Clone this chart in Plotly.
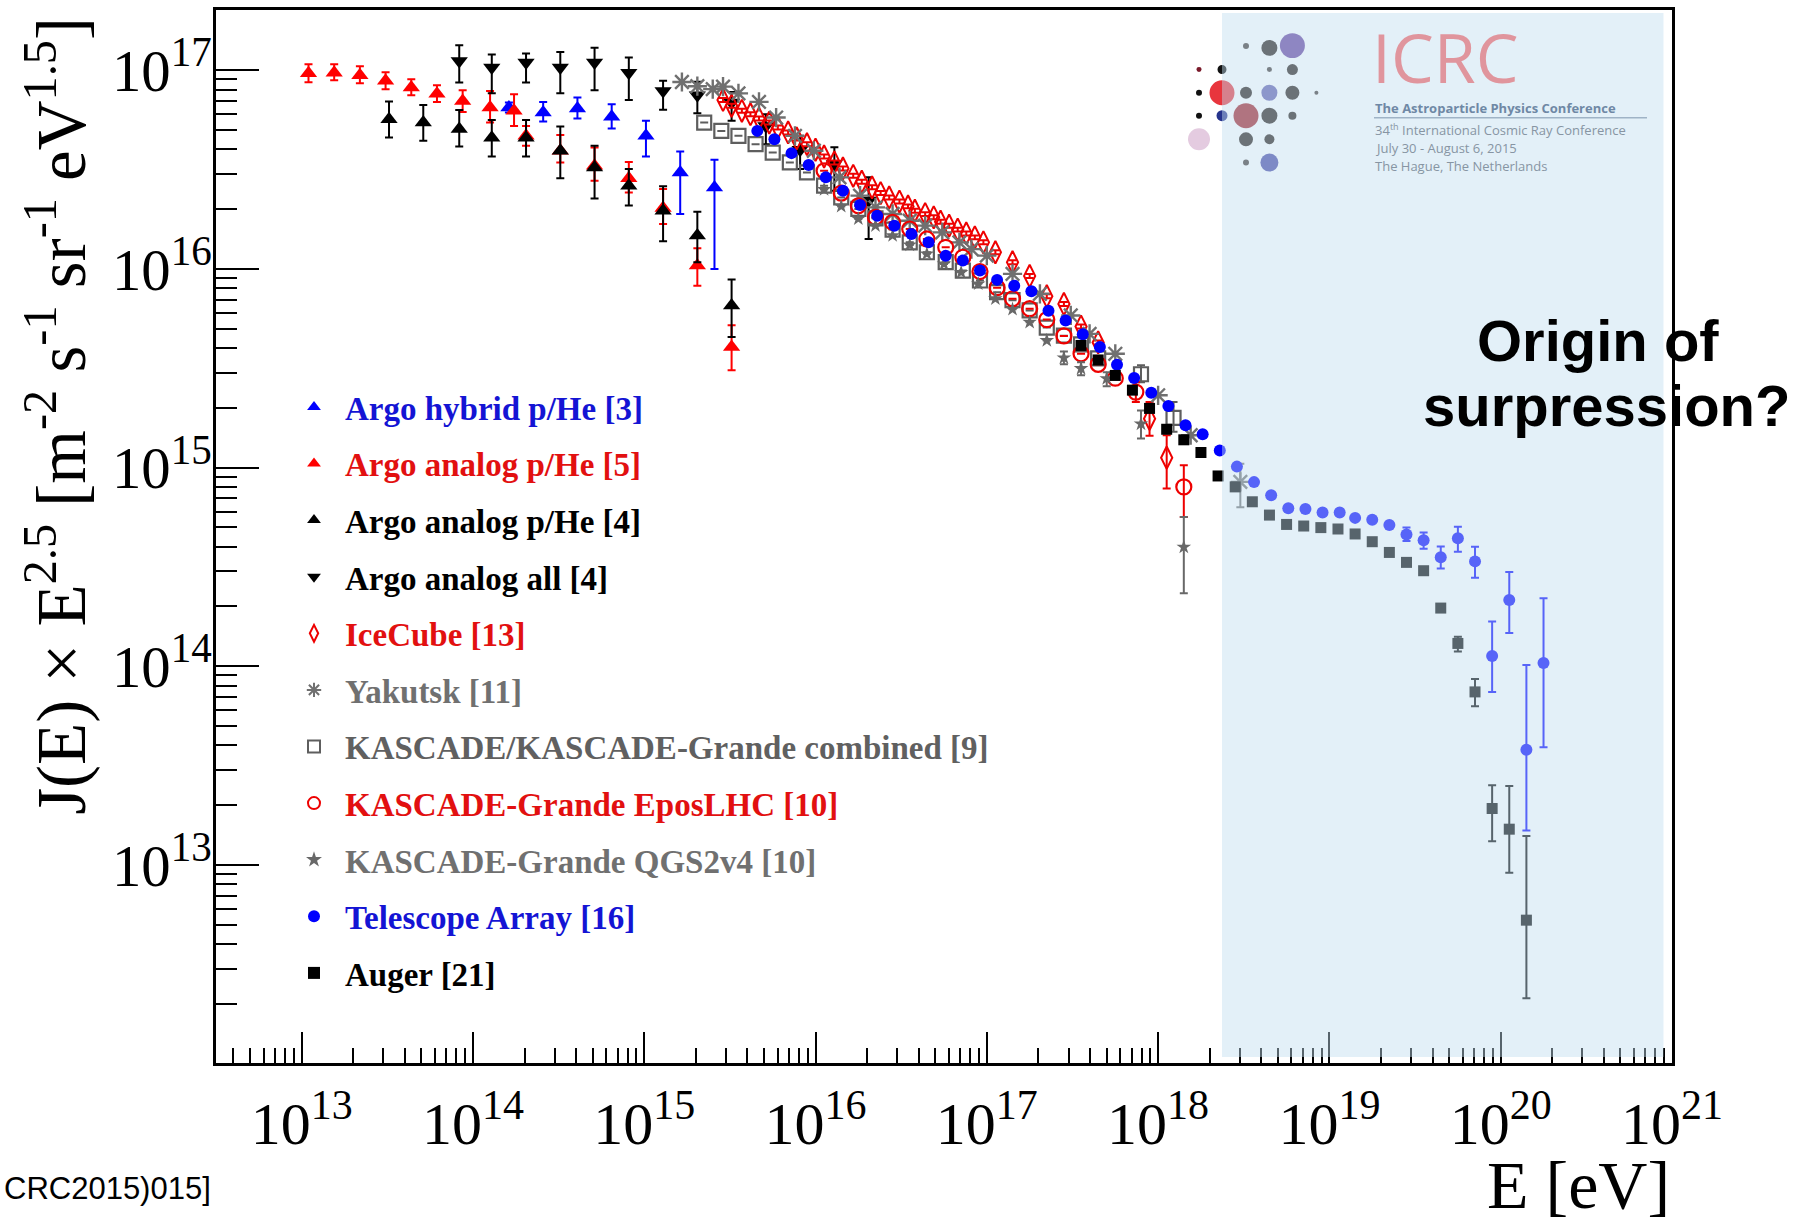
import plotly.graph_objects as go

# ---------------- data: log10(E/eV) and log10(J*E^2.5) ----------------
# Argo hybrid p/He [3]
hyb_logE = [14.21, 14.41, 14.61, 14.81, 15.01, 15.21, 15.41]
hyb_logJ = [16.813, 16.787, 16.808, 16.766, 16.670, 16.486, 16.410]
hyb_hi = [16.838, 16.841, 16.863, 16.829, 16.746, 16.591, 16.550]
hyb_lo = [16.787, 16.742, 16.757, 16.707, 16.566, 16.276, 16.000]

# Argo analog p/He [5]
a5_logE = [13.04, 13.19, 13.34, 13.49, 13.64, 13.79, 13.94, 14.10, 14.24, 14.31, 14.51, 14.71, 14.91, 15.11, 15.31, 15.51]
a5_logJ = [16.985, 16.988, 16.975, 16.947, 16.913, 16.882, 16.846, 16.813, 16.796, 16.670, 16.595, 16.520, 16.456, 16.307, 16.017, 15.607]
a5_hi = [17.03, 17.03, 17.02, 16.99, 16.955, 16.925, 16.90, 16.896, 16.879, 16.72, 16.674, 16.611, 16.539, 16.402, 16.104, 15.716]
a5_lo = [16.94, 16.95, 16.935, 16.905, 16.875, 16.84, 16.79, 16.737, 16.72, 16.62, 16.536, 16.444, 16.385, 16.226, 15.916, 15.49]

# Argo analog p/He [4]
a4_logE = [13.51, 13.71, 13.92, 14.11, 14.31, 14.51, 14.71, 14.91, 15.11, 15.31, 15.51]
a4_logJ = [16.754, 16.737, 16.705, 16.66, 16.66, 16.595, 16.511, 16.419, 16.293, 16.168, 15.816]
a4_hi = [16.843, 16.825, 16.80, 16.75, 16.75, 16.717, 16.62, 16.503, 16.416, 16.288, 15.947]
a4_lo = [16.662, 16.645, 16.617, 16.566, 16.566, 16.456, 16.355, 16.319, 16.139, 16.034, 15.657]

# Argo analog all [4]
aall_logE = [13.92, 14.11, 14.31, 14.51, 14.71, 14.91, 15.11, 15.31, 15.51, 15.71, 15.91, 16.11, 16.31]
aall_logJ = [17.047, 17.014, 17.039, 17.014, 17.039, 16.988, 16.896, 16.875, 16.838, 16.72, 16.60, 16.528, 16.344]
aall_hi = [17.126, 17.08, 17.085, 17.092, 17.114, 17.064, 16.947, 16.942, 16.891, 16.779, 16.67, 16.612, 16.461]
aall_lo = [16.938, 16.884, 16.938, 16.884, 16.90, 16.851, 16.801, 16.784, 16.746, 16.628, 16.503, 16.394, 16.151]

# IceCube [13]
ic_logE = [15.46, 15.51, 15.57, 15.62, 15.67, 15.73, 15.78, 15.84, 15.89, 15.95, 16.00, 16.05, 16.11, 16.16,
           16.22, 16.27, 16.33, 16.38, 16.43, 16.49, 16.54, 16.58, 16.64, 16.69, 16.73, 16.78, 16.83, 16.88,
           16.93, 16.98, 17.05, 17.15, 17.25, 17.35, 17.45, 17.55, 17.65, 17.95, 18.05]
ic_logJ = [16.851, 16.821, 16.796, 16.779, 16.757, 16.737, 16.712, 16.687, 16.657, 16.628, 16.600, 16.566, 16.536, 16.506,
           16.469, 16.439, 16.411, 16.382, 16.360, 16.339, 16.315, 16.293, 16.276, 16.260, 16.238, 16.218, 16.198, 16.179,
           16.159, 16.134, 16.084, 16.034, 15.965, 15.863, 15.824, 15.71, 15.63, 15.246, 15.05]
ic_hi = [v + 0.01 for v in ic_logJ[:37]] + [15.33, 15.163]
ic_lo = [v - 0.01 for v in ic_logJ[:37]] + [15.16, 14.895]

# Yakutsk [11]
yk_logE = [15.22, 15.31, 15.40, 15.46, 15.55, 15.67, 15.77, 15.88, 15.99, 16.14, 16.26, 16.35, 16.45, 16.55,
           16.64, 16.74, 16.84, 16.91, 17.00, 17.15, 17.31, 17.49, 17.60, 17.75, 18.00, 18.19, 18.48]
yk_logJ = [16.941, 16.920, 16.905, 16.918, 16.884, 16.841, 16.762, 16.670, 16.595, 16.461, 16.369, 16.310, 16.277, 16.243,
           16.218, 16.184, 16.134, 16.100, 16.067, 15.975, 15.875, 15.766, 15.673, 15.573, 15.364, 15.163, 14.928]
yk_hi = list(yk_logJ[:26]) + [15.02]
yk_lo = list(yk_logJ[:26]) + [14.80]

# KASCADE/KASCADE-Grande combined [9]
kc_logE = [15.35, 15.45, 15.55, 15.65, 15.75, 15.85, 15.95, 16.05, 16.15, 16.25, 16.35, 16.45, 16.55, 16.65,
           16.76, 16.86, 16.96, 17.06, 17.15, 17.25, 17.35, 17.45, 17.55, 17.65, 17.90, 18.09]
kc_logJ = [16.737, 16.695, 16.670, 16.628, 16.586, 16.536, 16.486, 16.419, 16.360, 16.302, 16.255, 16.198, 16.134, 16.084,
           16.034, 15.992, 15.942, 15.883, 15.843, 15.791, 15.705, 15.664, 15.62, 15.55, 15.47, 15.25]
kc_hi = list(kc_logJ[:24]) + [15.515, 15.33]
kc_lo = list(kc_logJ[:24]) + [15.43, 15.18]

# KASCADE-Grande EposLHC [10]
ke_logE = [16.05, 16.15, 16.25, 16.35, 16.45, 16.55, 16.65, 16.76, 16.86, 16.96, 17.06, 17.15, 17.25, 17.35,
           17.45, 17.55, 17.65, 17.75, 17.87, 18.15]
ke_logJ = [16.494, 16.382, 16.318, 16.260, 16.235, 16.201, 16.151, 16.109, 16.059, 15.987, 15.906, 15.850, 15.800, 15.745,
           15.663, 15.573, 15.52, 15.45, 15.38, 14.903]
ke_hi = list(ke_logJ[:18]) + [15.43, 15.012]
ke_lo = list(ke_logJ[:18]) + [15.33, 14.752]

# KASCADE-Grande QGS2v4 [10]
kq_logE = [16.05, 16.15, 16.25, 16.35, 16.45, 16.55, 16.65, 16.75, 16.85, 16.95, 17.05, 17.15, 17.25, 17.35,
           17.45, 17.55, 17.70, 17.90, 18.15]
kq_logJ = [16.400, 16.315, 16.252, 16.218, 16.168, 16.121, 16.076, 16.025, 15.983, 15.925, 15.850, 15.797, 15.732, 15.640,
           15.553, 15.499, 15.448, 15.220, 14.600]
kq_hi = list(kq_logJ[:14]) + [15.585, 15.53, 15.48, 15.288, 14.752]
kq_lo = list(kq_logJ[:14]) + [15.52, 15.465, 15.41, 15.146, 14.367]

# Telescope Array [16]
ta_logE = [15.66, 15.76, 15.86, 15.96, 16.06, 16.16, 16.26, 16.36, 16.46, 16.56, 16.66, 16.76, 16.86, 16.96,
           17.06, 17.16, 17.26, 17.36, 17.46, 17.56, 17.66, 17.76, 17.86, 17.96, 18.06, 18.16, 18.26, 18.36,
           18.46, 18.56, 18.66, 18.76, 18.86, 18.96, 19.06, 19.15, 19.25, 19.35, 19.45, 19.55, 19.65, 19.75,
           19.85, 19.95, 20.05, 20.15, 20.25]
ta_logJ = [16.695, 16.653, 16.583, 16.523, 16.461, 16.394, 16.322, 16.268, 16.218, 16.176, 16.134, 16.067, 16.042, 15.992,
           15.945, 15.916, 15.888, 15.790, 15.740, 15.671, 15.607, 15.518, 15.451, 15.377, 15.310, 15.213, 15.168, 15.086,
           15.005, 14.927, 14.861, 14.796, 14.792, 14.774, 14.774, 14.747, 14.738, 14.711, 14.663, 14.634, 14.549, 14.645,
           14.528, 14.052, 14.334, 13.580, 14.016]
ta_hi = list(ta_logJ[:38]) + [14.698, 14.673, 14.603, 14.702, 14.602, 14.226, 14.474, 14.007, 14.343]
ta_lo = list(ta_logJ[:38]) + [14.630, 14.591, 14.492, 14.576, 14.445, 13.871, 14.167, 13.173, 13.593]

# Auger [21]
au_logE = [17.55, 17.65, 17.75, 17.85, 17.95, 18.05, 18.15, 18.25, 18.35, 18.45, 18.55, 18.65, 18.75, 18.85,
           18.95, 19.05, 19.15, 19.25, 19.35, 19.45, 19.55, 19.65, 19.75, 19.85, 19.95, 20.05, 20.15]
au_logJ = [15.615, 15.542, 15.464, 15.390, 15.298, 15.193, 15.140, 15.076, 14.958, 14.903, 14.828, 14.761, 14.714, 14.706,
           14.698, 14.691, 14.666, 14.627, 14.573, 14.523, 14.481, 14.293, 14.115, 13.871, 13.284, 13.180, 12.722]
au_hi = list(au_logJ[:22]) + [14.149, 13.936, 13.401, 13.397, 13.146]
au_lo = list(au_logJ[:22]) + [14.074, 13.799, 13.119, 12.961, 12.329]

series = [
    dict(name="Argo hybrid p/He [3]", E=hyb_logE, J=hyb_logJ, hi=hyb_hi, lo=hyb_lo,
         symbol="triangle-up", size=15, color="#0000ff", text="#1414d4"),
    dict(name="Argo analog p/He [5]", E=a5_logE, J=a5_logJ, hi=a5_hi, lo=a5_lo,
         symbol="triangle-up", size=15, color="#ff0000", text="#e21010"),
    dict(name="Argo analog p/He [4]", E=a4_logE, J=a4_logJ, hi=a4_hi, lo=a4_lo,
         symbol="triangle-up", size=15, color="#000000", text="#000000"),
    dict(name="Argo analog all [4]", E=aall_logE, J=aall_logJ, hi=aall_hi, lo=aall_lo,
         symbol="triangle-down", size=15, color="#000000", text="#000000"),
    dict(name="IceCube [13]", E=ic_logE, J=ic_logJ, hi=ic_hi, lo=ic_lo,
         symbol="diamond-tall-open", size=16, color="#ee0000", text="#e21010", lw=2),
    dict(name="Yakutsk [11]", E=yk_logE, J=yk_logJ, hi=yk_hi, lo=yk_lo,
         symbol="asterisk-open", size=16, color="#707070", text="#707070", lw=2.4),
    dict(name="KASCADE/KASCADE-Grande combined [9]", E=kc_logE, J=kc_logJ, hi=kc_hi, lo=kc_lo,
         symbol="square-open", size=14, color="#5e5e5e", text="#606060", lw=2.2),
    dict(name="KASCADE-Grande EposLHC [10]", E=ke_logE, J=ke_logJ, hi=ke_hi, lo=ke_lo,
         symbol="circle-open", size=15, color="#ee0000", text="#e21010", lw=2.2),
    dict(name="KASCADE-Grande QGS2v4 [10]", E=kq_logE, J=kq_logJ, hi=kq_hi, lo=kq_lo,
         symbol="star", size=11, color="#686868", text="#707070"),
    dict(name="Telescope Array [16]", E=ta_logE, J=ta_logJ, hi=ta_hi, lo=ta_lo,
         symbol="circle", size=12, color="#0000ff", text="#1414d4"),
    dict(name="Auger [21]", E=au_logE, J=au_logJ, hi=au_hi, lo=au_lo,
         symbol="square", size=11, color="#000000", text="#000000"),
]

fig = go.Figure()
for s in series:
    x = [10 ** v for v in s["E"]]
    y = [10 ** v for v in s["J"]]
    up = [10 ** h - yy for h, yy in zip(s["hi"], y)]
    dn = [yy - 10 ** l for l, yy in zip(s["lo"], y)]
    marker = dict(symbol=s["symbol"], size=s["size"], color=s["color"])
    if "lw" in s:
        marker["line"] = dict(color=s["color"], width=s["lw"])
    fig.add_trace(go.Scatter(
        x=x, y=y, mode="markers", marker=marker,
        error_y=dict(type="data", symmetric=False, array=up, arrayminus=dn,
                     color=s["color"], thickness=2, width=4),
        name='<b><span style="color:%s">%s</span></b>' % (s["text"], s["name"]),
        legendgroup=s["name"], cliponaxis=True,
    ))

# ---------------- layout / decoration ----------------
L, R, T, B = 216, 1672, 7, 1063
def px(x):
    return (x - L) / (R - L)
def py(y):
    return (B - y) / (B - T)

shapes = []
# logo dots straddling the shaded edge (drawn under the overlay)
for cx, cy, r, c in [(1222, 66.7, 4.5, "#111111"), (1222, 90, 12.5, "#e8353d"), (1222, 113, 5.5, "#25338c")]:
    shapes.append(dict(type="circle", xref="paper", yref="paper", layer="above",
                       x0=px(cx - r), x1=px(cx + r), y0=py(cy + r), y1=py(cy - r),
                       fillcolor=c, line=dict(width=0)))
# light-blue overlay (region beyond the ankle)
shapes.append(dict(type="rect", xref="paper", yref="paper", layer="above",
                   x0=px(1222), x1=px(1663.5), y0=py(1057), y1=py(10),
                   fillcolor="rgba(193,222,239,0.45)", line=dict(width=0)))
logo_dots = [
    (1246, 43, 3, "#7a8187"), (1269.4, 45, 8, "#6b7277"), (1292.4, 42.7, 12.5, "#8e86c2"),
    (1199, 66.7, 2.5, "#7a1a2a"), (1269.4, 66.7, 2.5, "#7a8187"), (1292.4, 66.7, 5.5, "#6b7277"),
    (1199, 90, 3, "#111111"), (1246, 90, 6, "#6b7277"), (1269.4, 90, 8, "#8c97cb"),
    (1292.4, 90, 7, "#6b7277"), (1316.4, 90, 2, "#7a8187"),
    (1199, 113, 3, "#111111"), (1246, 113, 12.5, "#b07480"), (1269.4, 113, 8, "#6b7277"),
    (1292.4, 113, 4, "#6b7277"),
    (1199, 136.7, 11, "#e4cbe0"), (1246, 136.7, 7, "#6b7277"), (1269.4, 136.7, 5, "#6b7277"),
    (1246, 160, 3, "#7a8187"), (1269.4, 160, 9, "#7d8ac6"),
]
for cx, cy, r, c in logo_dots:
    shapes.append(dict(type="circle", xref="paper", yref="paper", layer="above",
                       x0=px(cx - r), x1=px(cx + r), y0=py(cy + r), y1=py(cy - r),
                       fillcolor=c, line=dict(width=0)))
shapes.append(dict(type="line", xref="paper", yref="paper", layer="above",
                   x0=px(1374), x1=px(1647), y0=py(115), y1=py(115),
                   line=dict(color="#9fb3c6", width=1.5)))

ann = []
def A(text, x, y, size, family, color="#000000", xanchor="left", yanchor="middle", angle=0):
    ann.append(dict(text=text, x=x, y=y, xref="paper", yref="paper", showarrow=False,
                    xanchor=xanchor, yanchor=yanchor, textangle=angle,
                    font=dict(size=size, family=family, color=color)))

A("ICRC", px(1370), py(54), 68, "Open Sans", "#e0959d")
A("<b>The Astroparticle Physics Conference</b>", px(1373), py(105), 13, "Open Sans", "#6f88a5")
A("34<sup>th</sup> International Cosmic Ray Conference", px(1373), py(127), 13, "Open Sans", "#8795a3")
A("July 30 - August 6, 2015", px(1373), py(145), 13, "Open Sans", "#8795a3")
A("The Hague, The Netherlands", px(1373), py(163), 13, "Open Sans", "#8795a3")
A("<b>Origin of</b>", px(1598), py(338), 58, "Liberation Sans, Arial", xanchor="center")
A("<b>surpression?</b>", px(1606), py(404), 58, "Liberation Sans, Arial", xanchor="center")
A("J(E) × E<sup>2.5</sup> [m<sup>-2</sup> s<sup>-1</sup> sr<sup>-1</sup> eV<sup>1.5</sup>]",
  px(57), py(414), 69, "Liberation Serif, Times New Roman", xanchor="center", angle=-90)
A("E [eV]", px(1672), py(1185), 68, "Liberation Serif, Times New Roman", xanchor="right")
A("CRC2015)015]", px(213), py(1189), 31, "Liberation Sans, Arial", xanchor="right")

axis_common = dict(type="log", showgrid=False, zeroline=False, showline=True, linecolor="#000000",
                   linewidth=2.5, mirror=True, ticks="inside", tickcolor="#000000", tickwidth=2,
                   dtick=1, exponentformat="power", showexponent="all")

fig.update_layout(
    width=1801, height=1225,
    margin=dict(l=L, r=1801 - R, t=T, b=1225 - B, pad=0),
    paper_bgcolor="#ffffff", plot_bgcolor="#ffffff",
    xaxis=dict(axis_common, range=[12.5, 21.0], ticklen=31,
               minor=dict(ticks="inside", ticklen=15, tickwidth=2, tickcolor="#000000", dtick="D1"),
               tickfont=dict(size=48, family="Liberation Serif, Times New Roman", color="#000000"),
               ticklabelstandoff=9),
    yaxis=dict(axis_common, range=[12.003, 17.3035], ticklen=43,
               minor=dict(ticks="inside", ticklen=21, tickwidth=2, tickcolor="#000000", dtick="D1"),
               tickfont=dict(size=47, family="Liberation Serif, Times New Roman", color="#000000"),
               ticklabelstandoff=-8),
    showlegend=True,
    legend=dict(x=px(283), y=py(377), xanchor="left", yanchor="top",
                bgcolor="rgba(0,0,0,0)", borderwidth=0,
                font=dict(family="Liberation Serif, Times New Roman", size=33, color="#000000"),
                traceorder="grouped", tracegroupgap=10.7, itemsizing="constant", itemwidth=52),
    shapes=shapes,
    annotations=ann,
)

fig.write_html("out.html")
